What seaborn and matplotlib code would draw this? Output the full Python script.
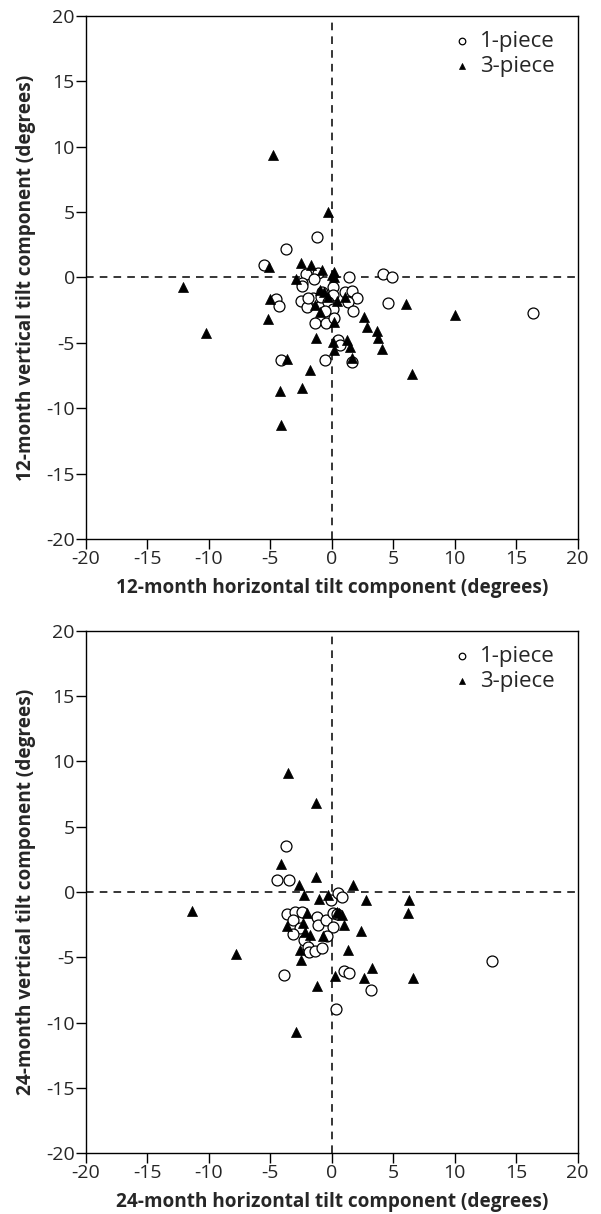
import matplotlib
matplotlib.use("Agg")
import matplotlib.pyplot as plt
import seaborn as sns
import pandas as pd

sns.set_theme(style="white")
plt.rcParams['font.family'] = ['Open Sans', 'DejaVu Sans']
plt.rcParams['axes.unicode_minus'] = False

# ---- data: 12-month panel ----
m12_one_x = [-1.21, -3.71, -5.5, -2.11, -1.1, -1.42, 1.39, 4.13, 4.86, 4.54, -2.46, -2.4, 0.06, -0.8,
             0.11, 1.07, 1.61, 2.02, 1.34, 1.69, -4.55, -4.33, -2.5, -2.05, -1.56, -1.91, -0.89, -0.34,
             0.11, -0.59, -1.37, -0.5, 0.2, 0.52, 0.65, -4.14, -0.56, 1.61, 16.4]
m12_one_y = [3.12, 2.15, 0.95, 0.24, 0.37, -0.11, 0.06, 0.27, 0.06, -1.97, -0.39, -0.62, -0.75, -1.13,
             -1.34, -1.13, -1.02, -1.59, -1.85, -2.56, -1.67, -2.18, -1.77, -2.28, -1.59, -1.59, -1.46, -1.9,
             -2.43, -2.6, -3.5, -3.45, -3.12, -4.77, -5.16, -6.3, -6.3, -6.48, -2.7]
m12_three_x = [-4.82, -0.34, -2.51, -1.73, -5.09, -0.83, 0.14, 0.2, -2.95, -0.64, 1.07, 0.39, -0.29,
               -1.37, -0.97, -5.04, -5.22, -10.2, 2.64, 2.83, 3.67, 3.78, 4.08, 0.2, -1.32, 0.13, 0.2,
               1.2, 1.47, 1.61, -3.63, -1.78, -2.46, -4.2, -4.12, -12.1, 10.0, 6.54, 6.03, -1.0, 0.0]
m12_three_y = [9.36, 5.03, 1.08, 0.95, 0.78, 0.57, 0.44, 0.06, -0.11, -1.08, -1.47, -1.77, -1.46,
               -2.1, -2.61, -1.67, -3.19, -4.27, -3.04, -3.76, -4.09, -4.65, -5.49, -3.37, -4.62, -4.9, -5.54,
               -4.77, -5.28, -6.17, -6.25, -7.07, -8.42, -8.65, -11.27, -0.73, -2.84, -7.37, -2.02, -0.95, 0.19]

# ---- data: 24-month panel ----
m24_one_x = [-3.73, -4.49, -3.49, -0.1, 0.52, 0.79, -3.68, -3.0, -2.41, -3.14, -2.6, -3.14, -1.19, -1.1,
             -0.5, 0.11, 0.39, 0.11, -0.42, -2.25, -1.92, -1.87, -1.38, -0.83, -3.87, 0.98, 1.36, 3.16,
             0.31, 13.04]
m24_one_y = [3.52, 0.92, 0.92, -0.61, -0.1, -0.36, -1.68, -1.5, -1.56, -2.14, -2.78, -3.21, -1.89, -2.52,
             -2.14, -1.63, -1.7, -2.7, -3.34, -3.67, -4.18, -4.56, -4.49, -4.31, -6.35, -6.02, -6.22, -7.5,
             -8.93, -5.28]
m24_three_x = [-3.6, -1.32, -4.14, -1.32, -2.65, 1.69, -2.25, -1.05, -0.29, 2.75, -2.05, 0.39, 0.6, 0.8,
               -2.33, -3.68, -2.16, -1.78, 0.98, -0.7, 2.37, -2.6, 1.33, -2.54, -7.8, -11.4, 3.29, 2.61,
               0.25, -1.19, -2.92, 6.3, 6.22, 6.6]
m24_three_y = [9.08, 6.78, 2.14, 1.17, 0.54, 0.54, -0.23, -0.56, -0.23, -0.61, -1.58, -1.5, -1.6, -1.75,
               -2.4, -2.58, -3.09, -3.29, -2.52, -3.34, -2.96, -4.44, -4.44, -5.2, -4.74, -1.43, -5.84, -6.6,
               -6.4, -7.17, -10.69, -0.61, -1.63, -6.6]

ticks = [-20, -15, -10, -5, 0, 5, 10, 15, 20]

panels = [
    ("12", m12_one_x, m12_one_y, m12_three_x, m12_three_y, [0.1431, 0.5558, 0.8181, 0.4313]),
    ("24", m24_one_x, m24_one_y, m24_three_x, m24_three_y, [0.1431, 0.0500, 0.8181, 0.4305]),
]

fig = plt.figure(figsize=(6.01, 12.14), dpi=100)

for months, ox, oy, tx, ty, pos in panels:
    ax = fig.add_axes(pos)
    ax.axhline(0, color='black', lw=1.1, ls=(0, (5, 4)), zorder=1)
    ax.axvline(0, color='black', lw=1.1, ls=(0, (5, 4)), zorder=1)
    d1 = pd.DataFrame({"x": ox, "y": oy})
    d3 = pd.DataFrame({"x": tx, "y": ty})
    sns.scatterplot(data=d1, x="x", y="y", ax=ax, marker='o', s=62,
                    facecolor='white', edgecolor='black', linewidth=0.9,
                    label='1-piece', zorder=3)
    sns.scatterplot(data=d3, x="x", y="y", ax=ax, marker='^', s=52,
                    color='black', edgecolor='black', linewidth=0.5,
                    label='3-piece', zorder=3)
    ax.set_xlim(-20, 20)
    ax.set_ylim(-20, 20)
    ax.set_xticks(ticks)
    ax.set_yticks(ticks)
    ax.tick_params(axis='both', direction='out', length=7, width=1.0, color='black',
                   labelsize=14, pad=1, bottom=True, left=True, top=False, right=False)
    for sp in ax.spines.values():
        sp.set_color('black')
        sp.set_linewidth(1.0)
    ax.set_xlabel(f"{months}-month horizontal tilt component (degrees)", fontsize=13.7,
                  fontweight='bold', labelpad=7)
    ax.set_ylabel(f"{months}-month vertical tilt component (degrees)", fontsize=13.7,
                  fontweight='bold', labelpad=7)
    leg = ax.legend(loc='upper right', frameon=False, fontsize=16, markerscale=0.6,
                    handletextpad=0.2, borderaxespad=0.3, labelspacing=0.15,
                    handlelength=1.2, bbox_to_anchor=(0.985, 1.0))

fig.savefig("out.png", dpi=100)
